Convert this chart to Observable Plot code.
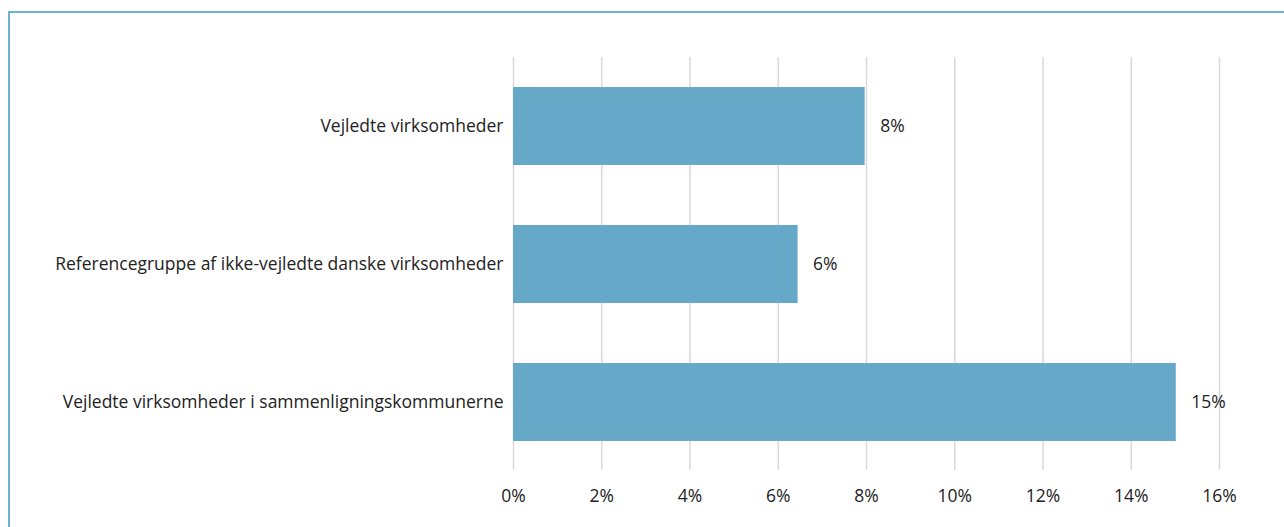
<!DOCTYPE html>
<html><head><meta charset="utf-8">
<script src="https://cdn.jsdelivr.net/npm/d3@7"></script>
<script src="https://cdn.jsdelivr.net/npm/@observablehq/plot@0.6"></script>
<style>
html,body{margin:0;padding:0;background:#fff;overflow:hidden;}
#frame{position:absolute;left:8px;top:11px;width:1400px;height:700px;border-left:2.5px solid #6fafd4;border-top:2.5px solid #6fafd4;box-sizing:border-box;}
#chart{position:absolute;left:0;top:0;}
</style></head>
<body>
<div id="frame"></div>
<div id="chart"></div>
<script>
const categories = ["Vejledte virksomheder", "Referencegruppe af ikke-vejledte danske virksomheder", "Vejledte virksomheder i sammenligningskommunerne"];
const values = [7.97, 6.45, 15.02];
const valueLabels = ["8%", "6%", "15%"];
const xTicks = [0, 2, 4, 6, 8, 10, 12, 14, 16];

const data = categories.map((c, i) => ({category: c, value: values[i], label: valueLabels[i]}));

const chart = Plot.plot({
  width: 1284,
  height: 527,
  marginLeft: 513,
  marginRight: 65,
  marginTop: 57,
  marginBottom: 57,
  style: {fontFamily: "'Open Sans', sans-serif", fontSize: "17.5px", color: "#222", background: "transparent"},
  x: {domain: [0, 16], ticks: xTicks, tickFormat: d => d + "%", tickSize: 0, tickPadding: 19, label: null},
  y: {domain: categories, paddingInner: 0.435, paddingOuter: 0.21, tickSize: 0, tickPadding: 10, label: null},
  marks: [
    Plot.ruleX(xTicks, {stroke: "#d9d9d9", strokeWidth: 1.5}),
    Plot.barX(data, {y: "category", x: "value", fill: "#65a8c8"}),
    Plot.text(data, {y: "category", x: "value", text: "label", dx: 15, textAnchor: "start", fill: "#222", fontSize: 17.5})
  ]
});
document.getElementById("chart").appendChild(chart);
</script>
</body></html>
